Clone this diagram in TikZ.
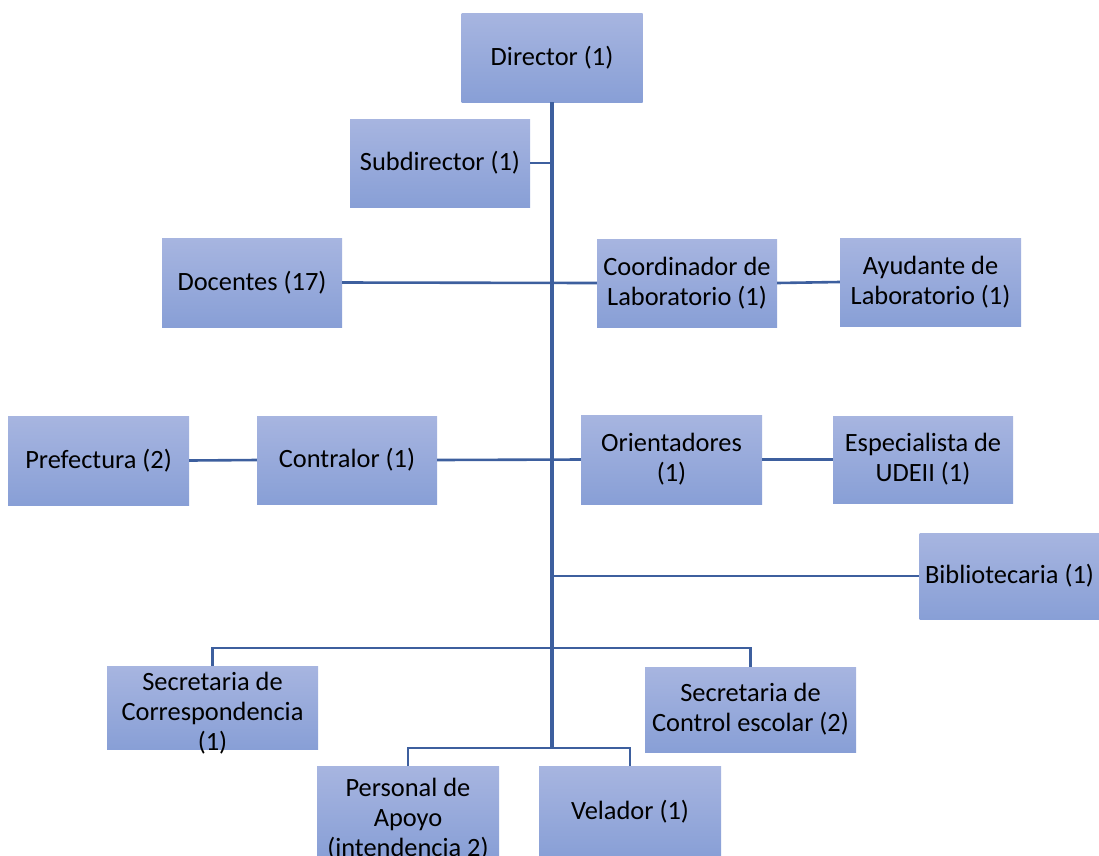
\documentclass[tikz,border=0pt]{standalone}
\usepackage{fontspec}
\setmainfont{Carlito}
\definecolor{linec}{RGB}{61,95,158}
\definecolor{boxtop}{RGB}{167,181,224}
\definecolor{boxbot}{RGB}{136,159,214}
\tikzset{
  box/.style={draw=none, top color=boxtop, bottom color=boxbot, inner sep=0pt,
    align=center, font=\fontsize{26.4}{30}\selectfont, text=black},
  lbl/.style={inner sep=0pt, align=center, font=\fontsize{26.4}{30}\selectfont, text=black},
  link/.style={draw=linec, line width=2.6pt},
  trunkline/.style={draw=linec, line width=3.2pt}
}
\begin{document}
\begin{tikzpicture}[x=1pt,y=-1pt]
\useasboundingbox (0,0) rectangle (1099,855);
% boxes
\node[box, minimum width=181pt, minimum height=89pt] (dir) at (552,57.5) {Director (1)};
\node[box, minimum width=180pt, minimum height=88pt] (sub) at (440,163) {Subdirector (1)};
\node[box, minimum width=180pt, minimum height=89pt] (doc) at (252,282.5) {Docentes (17)};
\node[box, minimum width=180pt, minimum height=88pt] (coord) at (687,283) {Coordinador de\\Laboratorio (1)};
\node[box, minimum width=181pt, minimum height=88pt] (ayud) at (930.5,282) {Ayudante de\\Laboratorio (1)};
\node[box, minimum width=181pt, minimum height=89pt] (pref) at (98.5,460.5) {Prefectura (2)};
\node[box, minimum width=180pt, minimum height=88pt] (contr) at (347,460) {Contralor (1)};
\node[box, minimum width=181pt, minimum height=89pt] (orient) at (671.5,459.5) {Orientadores\\(1)};
\node[box, minimum width=180pt, minimum height=87pt] (espec) at (923,459.5) {Especialista de\\UDEII (1)};
\node[box, minimum width=180pt, minimum height=86pt] (biblio) at (1009.5,576) {Bibliotecaria (1)};
\node[box, minimum width=211pt, minimum height=83pt] (secc) at (212.5,707.5) {};
\node[lbl] (secct) at (212.5,713) {Secretaria de\\Correspondencia\\(1)};
\node[box, minimum width=211pt, minimum height=85pt] (secce) at (750.5,709.5) {Secretaria de\\Control escolar (2)};
\node[box, minimum width=182pt, minimum height=92pt] (pers) at (408,812) {};
\node[lbl] (perst) at (408,819) {Personal de\\Apoyo\\(intendencia 2)};
\node[box, minimum width=182pt, minimum height=92pt] (vel) at (630,812) {Velador (1)};
% trunk coordinates
\coordinate (tsub) at (552,163);
\coordinate (tbib) at (552,576);
\coordinate (tb1) at (552,648);
\coordinate (tb2) at (552,748);
% connectors
\draw[link] (sub.east) -- (tsub);
\draw[link] (doc.east) -- (coord.west);
\draw[link] (coord.east) -- (ayud.west);
\draw[link] (pref.east) -- (contr.west);
\draw[link] (contr.east) -- (orient.west);
\draw[link] (orient.east) -- (espec.west);
\draw[link] (tbib) -- (biblio.west);
\draw[link] (secc.north) |- (tb1) -| (secce.north);
\draw[link] (pers.north) |- (tb2) -| (vel.north);
\draw[trunkline] (dir.south) -- (tb2);
\end{tikzpicture}
\end{document}
